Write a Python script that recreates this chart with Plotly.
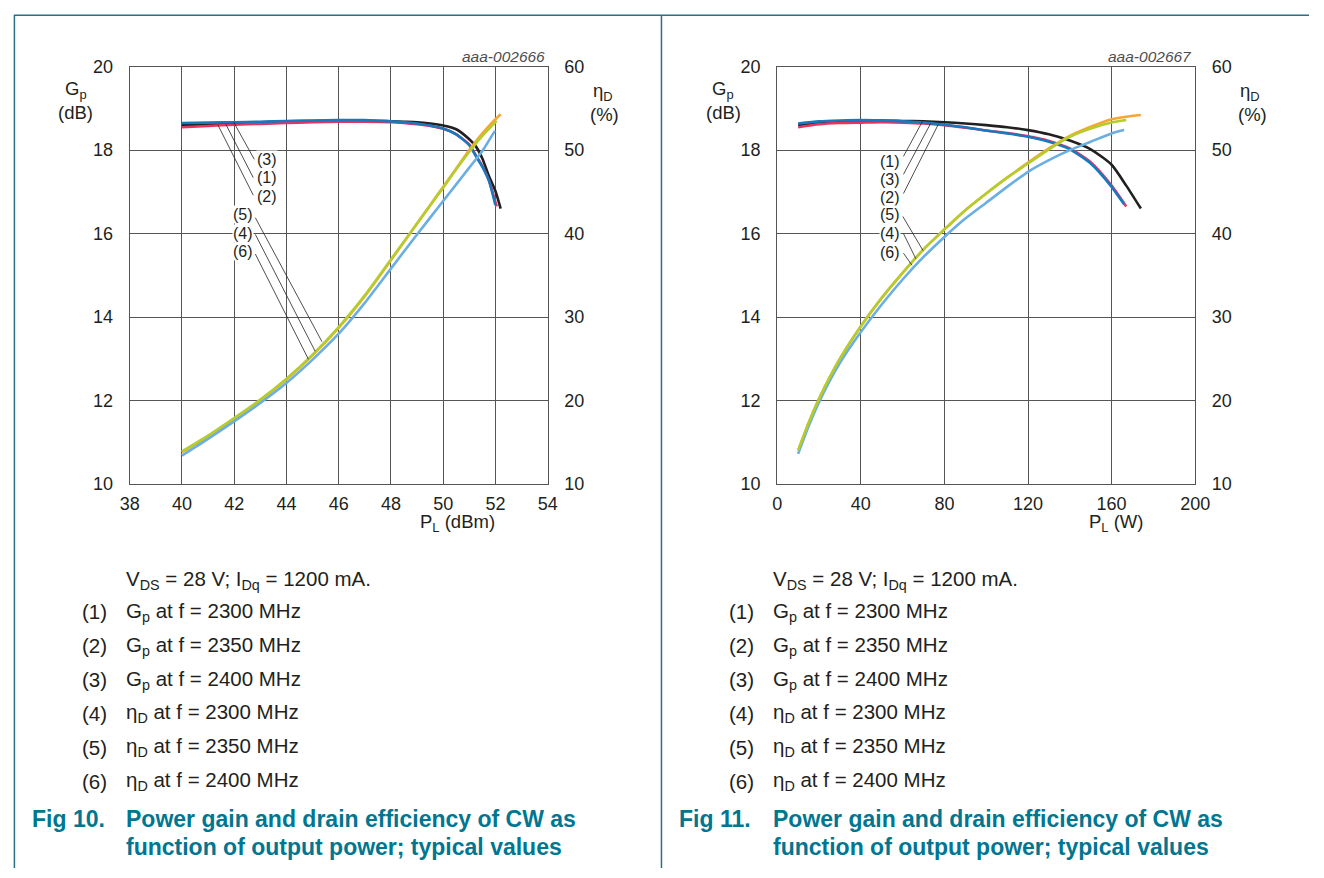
import plotly.graph_objects as go

W, H = 1324, 878

# ---------------- Fig 10 data (P_L in dBm) ----------------
tick_dbm = [38, 40, 42, 44, 46, 48, 50, 52, 54]
tick_gain = [10, 12, 14, 16, 18, 20]
tick_eta = [10, 20, 30, 40, 50, 60]

pl_dbm_gp_blue = [40, 41, 42, 43, 44, 45, 46, 47, 48, 48.5, 49, 49.5, 50, 50.5, 51, 51.25, 51.5, 51.75, 52.0]
gp_blue_dbm = [18.65, 18.66, 18.67, 18.68, 18.70, 18.71, 18.72, 18.72, 18.69, 18.67, 18.64, 18.59, 18.52, 18.38, 18.12, 17.86, 17.60, 17.27, 16.68]

pl_dbm_gp_red = [40, 41, 42, 43, 44, 45, 46, 47, 48, 48.5, 49, 49.5, 50, 50.5, 51, 51.25, 51.5, 51.75, 52.05]
gp_red_dbm = [18.55, 18.58, 18.61, 18.63, 18.65, 18.67, 18.68, 18.68, 18.67, 18.65, 18.62, 18.58, 18.51, 18.38, 18.13, 17.88, 17.62, 17.28, 16.65]

pl_dbm_gp_black = [40, 41, 42, 43, 44, 45, 46, 47, 48, 48.5, 49, 49.5, 50, 50.5, 51, 51.25, 51.5, 51.75, 52.0, 52.2]
gp_black_dbm = [18.60, 18.62, 18.65, 18.67, 18.69, 18.70, 18.71, 18.71, 18.69, 18.68, 18.67, 18.64, 18.59, 18.50, 18.26, 18.09, 17.80, 17.38, 17.02, 16.60]

pl_dbm_eta_orange = [40, 41, 42, 43, 44, 45, 46, 47, 48, 49, 50, 50.5, 51, 51.5, 52.0, 52.2]
eta_orange_dbm = [13.8, 15.7, 17.8, 20.0, 22.5, 25.4, 28.7, 32.5, 36.8, 41.2, 45.6, 47.8, 50.0, 52.0, 53.7, 54.3]

pl_dbm_eta_green = [40, 41, 42, 43, 44, 45, 46, 47, 48, 49, 50, 50.5, 51, 51.5, 52.05]
eta_green_dbm = [13.9, 15.8, 17.9, 20.1, 22.6, 25.5, 28.8, 32.6, 36.9, 41.2, 45.5, 47.7, 49.8, 51.7, 53.5]

pl_dbm_eta_lblue = [40, 41, 42, 43, 44, 45, 46, 47, 48, 49, 50, 50.5, 51, 51.5, 51.98]
eta_lblue_dbm = [13.4, 15.4, 17.5, 19.7, 22.1, 24.9, 28.0, 31.7, 35.8, 39.9, 43.9, 45.9, 47.9, 49.9, 52.3]

# ---------------- Fig 11 data (P_L in W) ----------------
tick_w = [0, 40, 80, 120, 160, 200]

pl_w_gp_blue = [10, 20, 30, 40, 50, 60, 70, 80, 90, 100, 110, 120, 130, 140, 150, 160, 166]
gp_blue_w = [18.64, 18.69, 18.71, 18.72, 18.71, 18.69, 18.66, 18.61, 18.55, 18.47, 18.40, 18.32, 18.20, 18.02, 17.68, 17.12, 16.70]

pl_w_gp_red = [10, 20, 30, 40, 50, 60, 70, 80, 90, 100, 110, 120, 130, 140, 150, 160, 167]
gp_red_w = [18.55, 18.62, 18.65, 18.66, 18.67, 18.66, 18.64, 18.60, 18.54, 18.47, 18.41, 18.33, 18.22, 18.04, 17.71, 17.15, 16.65]

pl_w_gp_black = [10, 20, 30, 40, 50, 60, 70, 80, 90, 100, 110, 120, 130, 140, 150, 160, 167, 174]
gp_black_w = [18.60, 18.66, 18.69, 18.70, 18.71, 18.70, 18.69, 18.67, 18.64, 18.60, 18.55, 18.48, 18.38, 18.23, 18.02, 17.65, 17.15, 16.60]

pl_w_eta_orange = [10, 15, 20, 30, 40, 50, 60, 70, 80, 90, 100, 110, 120, 130, 140, 150, 160, 167, 174]
eta_orange_w = [14.0, 17.3, 20.2, 25.0, 28.9, 32.3, 35.3, 38.1, 40.5, 42.8, 44.8, 46.7, 48.5, 50.2, 51.7, 52.8, 53.7, 54.0, 54.2]

pl_w_eta_green = [10, 15, 20, 30, 40, 50, 60, 70, 80, 90, 100, 110, 120, 130, 140, 150, 160, 167]
eta_green_w = [14.0, 17.3, 20.2, 25.0, 28.9, 32.3, 35.3, 38.1, 40.5, 42.8, 44.8, 46.7, 48.4, 50.1, 51.6, 52.6, 53.3, 53.6]

pl_w_eta_lblue = [10, 15, 20, 30, 40, 50, 60, 70, 80, 90, 100, 110, 120, 130, 140, 150, 160, 166]
eta_lblue_w = [13.6, 16.9, 19.8, 24.5, 28.2, 31.5, 34.5, 37.2, 39.6, 41.8, 43.7, 45.6, 47.4, 48.8, 50.0, 51.0, 52.0, 52.4]

legend_items = [
    ("(1)", "G<sub>p</sub> at f = 2300 MHz"),
    ("(2)", "G<sub>p</sub> at f = 2350 MHz"),
    ("(3)", "G<sub>p</sub> at f = 2400 MHz"),
    ("(4)", "η<sub>D</sub> at f = 2300 MHz"),
    ("(5)", "η<sub>D</sub> at f = 2350 MHz"),
    ("(6)", "η<sub>D</sub> at f = 2400 MHz"),
]

# ---------------- styles ----------------
C_BLACK = "#231f20"
C_BLUE = "#1a78bd"
C_RED = "#e8335f"
C_ORANGE = "#f9a533"
C_GREEN = "#b4cc2c"
C_LBLUE = "#6aaee2"
GRID = "#555555"
TEAL = "#007691"
BORDER = "#2a6f84"
FONT = "Liberation Sans, Arial, sans-serif"
LW = 2.6


def px(x):
    return x / W


def py(y):
    return 1 - y / H


fig = go.Figure()


def add_line(x, y, color, xa, ya):
    fig.add_trace(go.Scatter(x=x, y=y, mode="lines", line=dict(color=color, width=LW, shape="spline", smoothing=0.6),
                             xaxis=xa, yaxis=ya, showlegend=False, hoverinfo="skip"))


add_line(pl_dbm_gp_black, gp_black_dbm, C_BLACK, "x", "y")
add_line(pl_dbm_gp_red, gp_red_dbm, C_RED, "x", "y")
add_line(pl_dbm_gp_blue, gp_blue_dbm, C_BLUE, "x", "y")
add_line(pl_dbm_eta_orange, eta_orange_dbm, C_ORANGE, "x", "y2")
add_line(pl_dbm_eta_lblue, eta_lblue_dbm, C_LBLUE, "x", "y2")
add_line(pl_dbm_eta_green, eta_green_dbm, C_GREEN, "x", "y2")

add_line(pl_w_gp_black, gp_black_w, C_BLACK, "x3", "y3")
add_line(pl_w_gp_red, gp_red_w, C_RED, "x3", "y3")
add_line(pl_w_gp_blue, gp_blue_w, C_BLUE, "x3", "y3")
add_line(pl_w_eta_orange, eta_orange_w, C_ORANGE, "x3", "y4")
add_line(pl_w_eta_lblue, eta_lblue_w, C_LBLUE, "x3", "y4")
add_line(pl_w_eta_green, eta_green_w, C_GREEN, "x3", "y4")

tickfont = dict(family=FONT, size=18, color=C_BLACK)
ydom = [py(485), py(58)]

common_x = dict(showgrid=True, gridcolor=GRID, gridwidth=1, showline=True, linecolor=GRID, linewidth=1,
                mirror=True, zeroline=False, ticks="", tickfont=tickfont, ticklabelstandoff=3, fixedrange=True)
common_y = dict(showgrid=True, gridcolor=GRID, gridwidth=1, showline=True, linecolor=GRID, linewidth=1,
                zeroline=False, ticks="", tickfont=tickfont, ticklabelstandoff=12, fixedrange=True)

fig.update_layout(
    width=W, height=H, margin=dict(l=0, r=0, t=0, b=0, pad=0),
    paper_bgcolor="white", plot_bgcolor="white",
    font=dict(family=FONT, color=C_BLACK),
    xaxis=dict(domain=[px(122), px(548)], range=[38, 54], tickvals=tick_dbm, anchor="y", **common_x),
    yaxis=dict(domain=ydom, range=[10, 20], tickvals=tick_gain, anchor="x", side="left", **common_y),
    yaxis2=dict(range=[10, 60], tickvals=tick_eta, overlaying="y", side="right", anchor="x",
                showgrid=False, showline=True, linecolor=GRID, linewidth=1, zeroline=False, ticks="",
                tickfont=tickfont, ticklabelstandoff=12, fixedrange=True),
    xaxis3=dict(domain=[px(782), px(1208)], range=[0, 200], tickvals=tick_w, anchor="y3", **common_x),
    yaxis3=dict(domain=ydom, range=[10, 20], tickvals=tick_gain, anchor="x3", side="left", **common_y),
    yaxis4=dict(range=[10, 60], tickvals=tick_eta, overlaying="y3", side="right", anchor="x3",
                showgrid=False, showline=True, linecolor=GRID, linewidth=1, zeroline=False, ticks="",
                tickfont=tickfont, ticklabelstandoff=12, fixedrange=True),
)

ann = []
shapes = []

leaders_fig10 = [
    ("(3)", 43.26, 17.78, 42.77, 17.78, 41.98, 18.67),
    ("(1)", 43.26, 17.34, 42.73, 17.34, 41.68, 18.62),
    ("(2)", 43.26, 16.89, 42.73, 16.92, 41.38, 18.60),
    ("(5)", 42.32, 16.45, 42.81, 16.38, 45.36, 13.41),
    ("(4)", 42.32, 16.00, 42.81, 15.98, 45.10, 13.18),
    ("(6)", 42.32, 15.56, 42.81, 15.51, 44.84, 12.99),
]
leaders_fig11 = [
    ("(1)", 53.8, 17.73, 60.4, 17.85, 69.5, 18.69),
    ("(3)", 53.8, 17.30, 60.4, 17.42, 73.4, 18.64),
    ("(2)", 53.8, 16.87, 60.4, 16.96, 77.0, 18.61),
    ("(5)", 53.8, 16.45, 60.1, 16.41, 69.8, 15.59),
    ("(4)", 53.8, 16.00, 60.4, 16.00, 66.3, 15.40),
    ("(6)", 53.8, 15.55, 60.4, 15.53, 64.5, 15.24),
]
for leaders, xr, yr in ((leaders_fig10, "x", "y"), (leaders_fig11, "x3", "y3")):
    for lab, tx, ty, x0, y0, x1, y1 in leaders:
        shapes.append(dict(type="line", xref=xr, yref=yr, x0=x0, y0=y0, x1=x1, y1=y1,
                           line=dict(color=C_BLACK, width=0.8), layer="above"))
        ann.append(dict(text=lab, x=tx, y=ty, xref=xr, yref=yr, showarrow=False,
                        font=dict(family=FONT, size=16, color=C_BLACK), bgcolor="white",
                        borderpad=0, xanchor="center", yanchor="middle"))


def text(t, x, y, size=17, xanchor="center", color=C_BLACK, italic=False, bold=False):
    s = t
    if bold:
        s = "<b>" + s + "</b>"
    if italic:
        s = "<i>" + s + "</i>"
    ann.append(dict(text=s, x=px(x), y=py(y), xref="paper", yref="paper", showarrow=False,
                    font=dict(family=FONT, size=size, color=color), xanchor=xanchor, yanchor="middle"))


for dx, code, xunit in ((0, "aaa-002666", "P<sub>L</sub> (dBm)"), (660, "aaa-002667", "P<sub>L</sub> (W)")):
    text(code, 547 + dx, 48, size=15.5, xanchor="right", color="#4d4d4d", italic=True)
    text("G<sub>p</sub>", 67 + dx, 82, size=18.5)
    text("(dB)", 67 + dx, 105, size=18.5)
    text("η<sub>D</sub>", 604 + dx, 84, size=18.5)
    text("(%)", 606 + dx, 107, size=18.5)
    text(xunit, 456 + dx if dx == 0 else 1127, 525, size=18.5)
    text("V<sub>DS</sub> = 28 V; I<sub>Dq</sub> = 1200 mA.", 116 + dx, 583, size=20.5, xanchor="left")
    for i, (num, desc) in enumerate(legend_items):
        yy = 616 + i * 34.6
        text(num, 71 + dx, yy, size=20.5, xanchor="left")
        text(desc, 116 + dx, yy, size=20.5, xanchor="left")
    fig_no = "Fig 10." if dx == 0 else "Fig 11."
    text(fig_no, 20 + dx, 828, size=23, xanchor="left", color=TEAL, bold=True)
    text("Power gain and drain efficiency of CW as", 116 + dx, 828, size=23, xanchor="left", color=TEAL, bold=True)
    text("function of output power; typical values", 116 + dx, 857, size=23, xanchor="left", color=TEAL, bold=True)

shapes.append(dict(type="line", xref="paper", yref="paper", x0=px(4), x1=1, y0=py(5.5), y1=py(5.5),
                   line=dict(color=BORDER, width=1.5)))
shapes.append(dict(type="line", xref="paper", yref="paper", x0=px(4.5), x1=px(4.5), y0=0, y1=py(5.5),
                   line=dict(color=BORDER, width=1.5)))
shapes.append(dict(type="line", xref="paper", yref="paper", x0=px(664), x1=px(664), y0=0, y1=py(5.5),
                   line=dict(color=BORDER, width=1.5)))

fig.update_layout(annotations=ann, shapes=shapes)
fig.write_html(
    "out.html",
    config={"displayModeBar": False},
    post_script=(
        "var de=document.documentElement,b=document.body;"
        "de.style.margin='0';de.style.padding='0';de.style.overflow='hidden';"
        "b.style.margin='0';b.style.padding='0';b.style.overflow='hidden';"
        "var gd=document.getElementById('{plot_id}');"
        "if(gd.parentElement){gd.parentElement.style.margin='0';gd.parentElement.style.padding='0';}"
        "gd.style.position='fixed';gd.style.left='0px';gd.style.top='0px';gd.style.margin='0';"
    ),
)
